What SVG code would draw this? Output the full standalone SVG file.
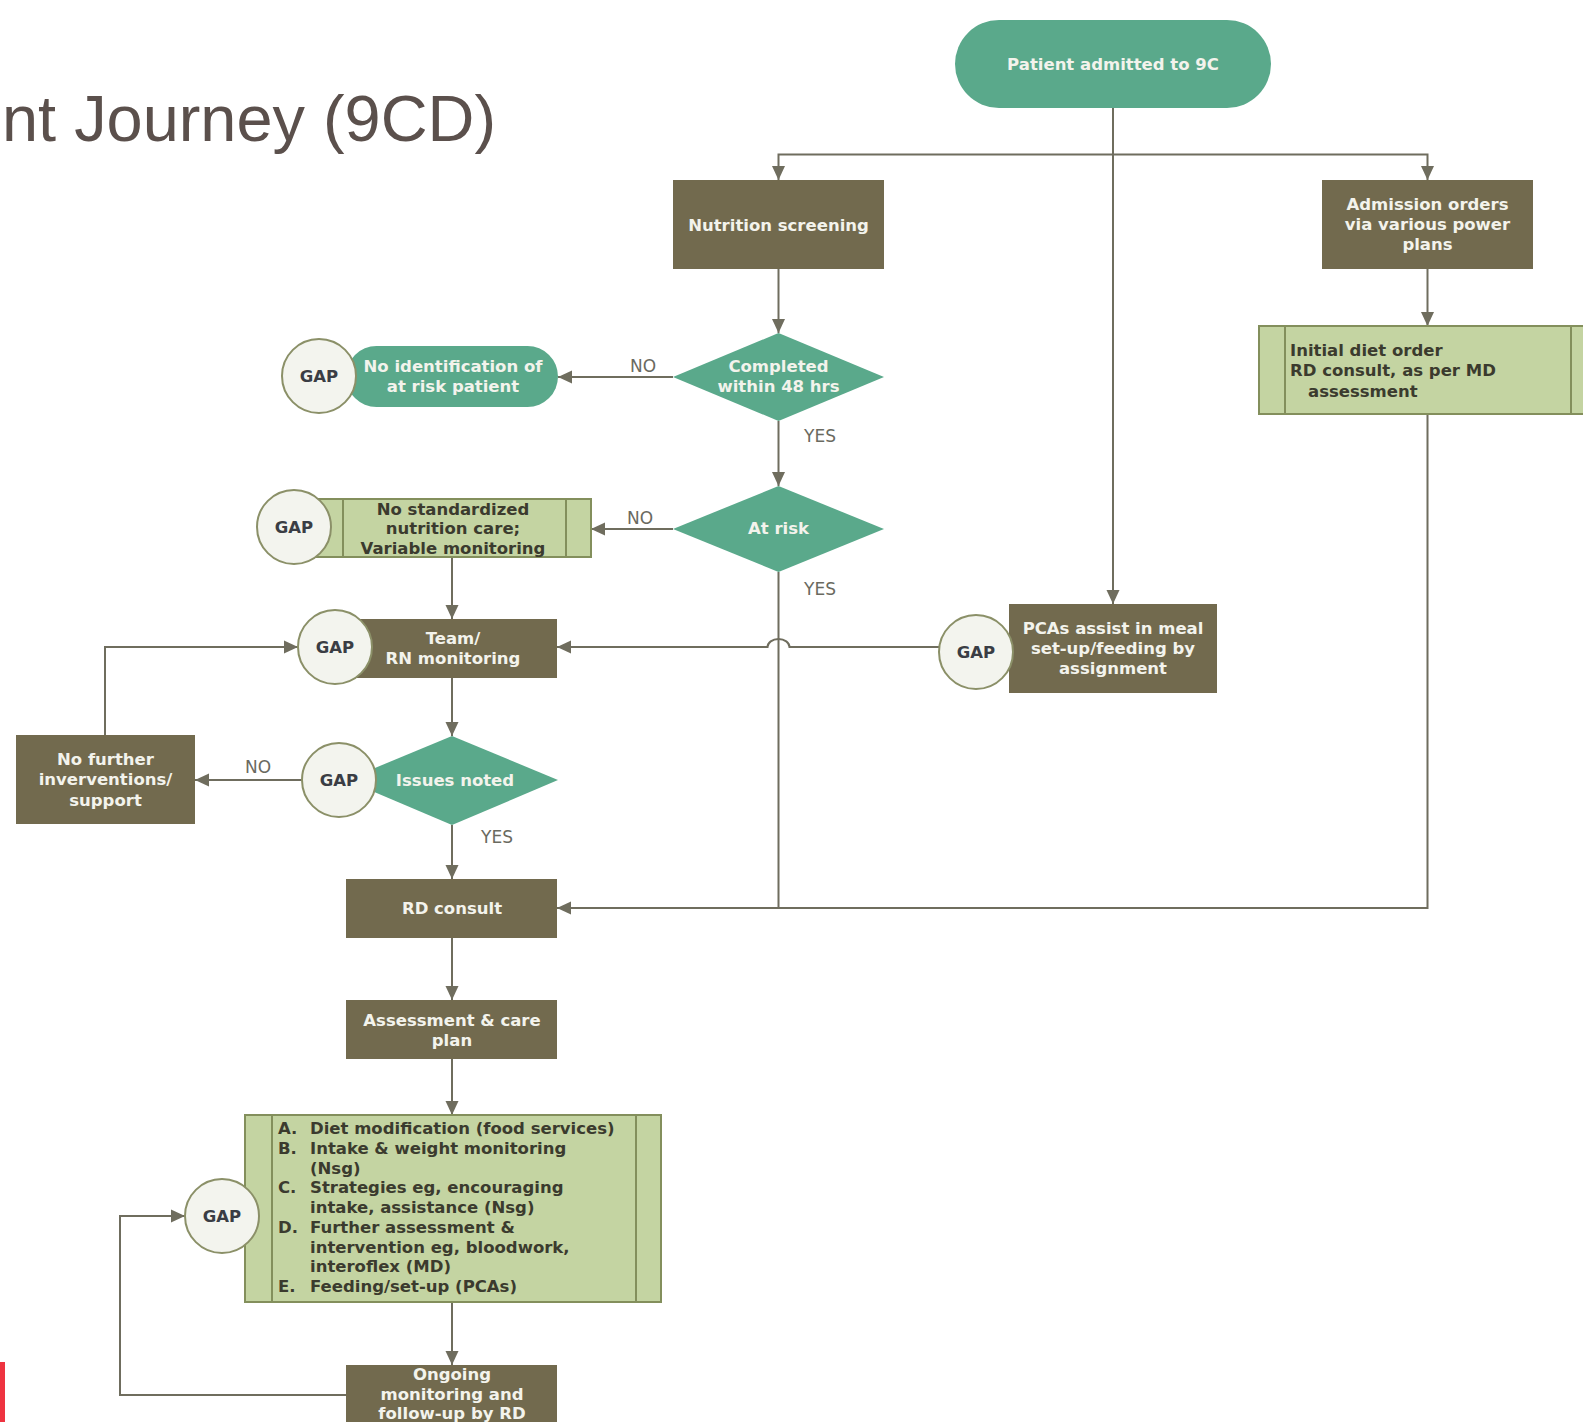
<svg xmlns="http://www.w3.org/2000/svg" width="1583" height="1422" viewBox="0 0 1583 1422">
<style>
text{font-family:"DejaVu Sans","Liberation Sans",sans-serif;}
.title{font-family:"Liberation Sans","DejaVu Sans",sans-serif;font-size:64px;fill:#5b504c;}
.dark{fill:#726a4e;}
.teal{fill:#5aa98b;}
.proc{fill:#c4d4a2;stroke:#838f5c;stroke-width:2;}
.inner{stroke:#838f5c;stroke-width:2;fill:none;}
.wt{fill:#f3f3ec;font-size:16.5px;font-weight:bold;text-anchor:middle;}
.dt{fill:#3b3b2e;font-size:16.5px;font-weight:bold;}
.gap circle{fill:#f3f4ee;stroke:#8b9068;stroke-width:2;}
.gap text{fill:#3a3d44;font-size:16.5px;font-weight:bold;text-anchor:middle;}
.lbl{fill:#6a6a60;font-size:17px;text-anchor:middle;}
.conn path{fill:none;stroke:#6f6d5e;stroke-width:2;}
.arr{marker-end:url(#ah);}
</style>
<defs>
<marker id="ah" markerUnits="userSpaceOnUse" markerWidth="14" markerHeight="14" viewBox="0 0 14 14" refX="14" refY="7" orient="auto">
<path d="M0,0.5 L14,7 L0,13.5 z" fill="#6f6d5e"/>
</marker>
</defs>
<rect width="1583" height="1422" fill="#ffffff"/>
<text class="title" x="2" y="141" textLength="494" lengthAdjust="spacingAndGlyphs">nt Journey (9CD)</text>
<rect x="0" y="1362" width="5" height="60" fill="#ee3340"/>

<g id="connectors" class="conn">
<path class="arr" d="M1113,108 V604"/>
<path class="arr" d="M1113,154.5 H778.5 V180"/>
<path class="arr" d="M1113,154.5 H1427.5 V180"/>
<path class="arr" d="M778.5,269 V333"/>
<path class="arr" d="M673,377 H558"/>
<path class="arr" d="M778.5,421 V486"/>
<path class="arr" d="M673,529 H591"/>
<path class="arr" d="M452,557 V619"/>
<path d="M778.5,572 V908"/>
<path class="arr" d="M939,647 H789.5 A11,8 0 0 0 767.5,647 H557"/>
<path class="arr" d="M452,678 V736"/>
<path class="arr" d="M105,735 V647 H298"/>
<path class="arr" d="M302,780 H195"/>
<path class="arr" d="M452,825 V879"/>
<path class="arr" d="M1427.5,269 V326"/>
<path class="arr" d="M1427.5,414 V908 H557"/>
<path class="arr" d="M452,938 V1000"/>
<path class="arr" d="M452,1059 V1115"/>
<path class="arr" d="M452,1302 V1365"/>
<path class="arr" d="M346,1395 H120 V1216 H185"/>
</g>
<g class="lbl">
<text class="lbl" x="643" y="372">NO</text>
<text class="lbl" x="820" y="442">YES</text>
<text class="lbl" x="640" y="524">NO</text>
<text class="lbl" x="820" y="595">YES</text>
<text class="lbl" x="258" y="773">NO</text>
<text class="lbl" x="497" y="843">YES</text>
</g>

<g id="n-admitted">
<rect class="teal" x="955" y="20" width="316" height="88" rx="44"/>
<text class="wt" x="1113" y="70">Patient admitted to 9C</text>
</g>
<g id="n-screening">
<rect class="dark" x="673" y="180" width="211" height="89"/>
<text class="wt" x="778.5" y="231">Nutrition screening</text>
</g>
<g id="n-admission">
<rect class="dark" x="1322" y="180" width="211" height="89"/>
<text class="wt" x="1427.5" y="210">Admission orders</text>
<text class="wt" x="1427.5" y="230">via various power</text>
<text class="wt" x="1427.5" y="250">plans</text>
</g>
<g id="n-initial-diet">
<rect class="proc" x="1259" y="326" width="340" height="88"/>
<path class="inner" d="M1285,326 V414 M1571,326 V414"/>
<text class="dt" x="1290" y="356">Initial diet order</text>
<text class="dt" x="1290" y="376">RD consult, as per MD</text>
<text class="dt" x="1308" y="397">assessment</text>
</g>
<g id="n-completed">
<polygon class="teal" points="778.5,333 884,377 778.5,421 673,377"/>
<text class="wt" x="778.5" y="372">Completed</text>
<text class="wt" x="778.5" y="392">within 48 hrs</text>
</g>
<g id="n-no-ident">
<rect class="teal" x="346" y="346" width="212" height="61" rx="30.5"/>
<text class="wt" x="453" y="372">No identification of</text>
<text class="wt" x="453" y="392">at risk patient</text>
</g>
<g id="gap-1" class="gap">
<circle cx="319" cy="376" r="37"/>
<text x="319" y="382">GAP</text>
</g>
<g id="n-atrisk">
<polygon class="teal" points="778.5,486 884,529 778.5,572 673,529"/>
<text class="wt" x="778.5" y="534">At risk</text>
</g>
<g id="n-no-std">
<rect class="proc" x="316" y="499" width="275" height="58"/>
<path class="inner" d="M343,499 V557 M566,499 V557"/>
<text class="dt" x="453" y="515" text-anchor="middle">No standardized</text>
<text class="dt" x="453" y="534" text-anchor="middle">nutrition care;</text>
<text class="dt" x="453" y="554" text-anchor="middle">Variable monitoring</text>
</g>
<g id="gap-2" class="gap">
<circle cx="294" cy="527" r="37"/>
<text x="294" y="533">GAP</text>
</g>
<g id="n-team">
<rect class="dark" x="346" y="619" width="211" height="59"/>
<text class="wt" x="453" y="644">Team/</text>
<text class="wt" x="453" y="664">RN monitoring</text>
</g>
<g id="gap-3" class="gap">
<circle cx="335" cy="647" r="37"/>
<text x="335" y="653">GAP</text>
</g>
<g id="n-pcas">
<rect class="dark" x="1009" y="604" width="208" height="89"/>
<text class="wt" x="1113" y="634">PCAs assist in meal</text>
<text class="wt" x="1113" y="654">set-up/feeding by</text>
<text class="wt" x="1113" y="674">assignment</text>
</g>
<g id="gap-4" class="gap">
<circle cx="976" cy="652" r="37"/>
<text x="976" y="658">GAP</text>
</g>
<g id="n-issues">
<polygon class="teal" points="452,736 558,780 452,825 346,780"/>
<text class="wt" x="455" y="786">Issues noted</text>
</g>
<g id="gap-5" class="gap">
<circle cx="339" cy="780" r="37"/>
<text x="339" y="786">GAP</text>
</g>
<g id="n-no-further">
<rect class="dark" x="16" y="735" width="179" height="89"/>
<text class="wt" x="105.5" y="765">No further</text>
<text class="wt" x="105.5" y="785">inverventions/</text>
<text class="wt" x="105.5" y="806">support</text>
</g>
<g id="n-rd-consult">
<rect class="dark" x="346" y="879" width="211" height="59"/>
<text class="wt" x="452" y="914">RD consult</text>
</g>
<g id="n-assessment">
<rect class="dark" x="346" y="1000" width="211" height="59"/>
<text class="wt" x="452" y="1026">Assessment &amp; care</text>
<text class="wt" x="452" y="1046">plan</text>
</g>
<g id="n-plan-list">
<rect class="proc" x="245" y="1115" width="416" height="187"/>
<path class="inner" d="M272,1115 V1302 M636,1115 V1302"/>
<text class="dt" x="278" y="1134">A.</text><text class="dt" x="310" y="1134">Diet modification (food services)</text>
<text class="dt" x="278" y="1154">B.</text><text class="dt" x="310" y="1154">Intake &amp; weight monitoring</text>
<text class="dt" x="310" y="1174">(Nsg)</text>
<text class="dt" x="278" y="1193">C.</text><text class="dt" x="310" y="1193">Strategies eg, encouraging</text>
<text class="dt" x="310" y="1213">intake, assistance (Nsg)</text>
<text class="dt" x="278" y="1233">D.</text><text class="dt" x="310" y="1233">Further assessment &amp;</text>
<text class="dt" x="310" y="1253">intervention eg, bloodwork,</text>
<text class="dt" x="310" y="1272">interoflex (MD)</text>
<text class="dt" x="278" y="1292">E.</text><text class="dt" x="310" y="1292">Feeding/set-up (PCAs)</text>
</g>
<g id="gap-6" class="gap">
<circle cx="222" cy="1216" r="37"/>
<text x="222" y="1222">GAP</text>
</g>
<g id="n-ongoing">
<rect class="dark" x="346" y="1365" width="211" height="70"/>
<text class="wt" x="452" y="1380">Ongoing</text>
<text class="wt" x="452" y="1400">monitoring and</text>
<text class="wt" x="452" y="1419">follow-up by RD</text>
</g>
</svg>
